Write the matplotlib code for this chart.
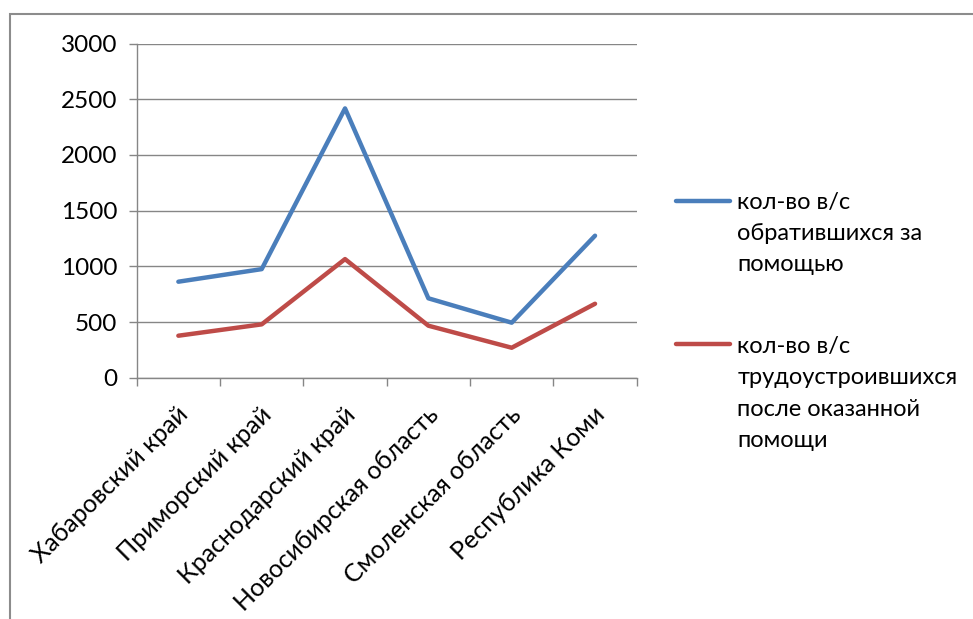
#!/usr/bin/env python3
"""
Line chart: kol-vo v/s by region (Excel-style reproduction).
Output: out.png
"""
import matplotlib
matplotlib.use("Agg")
import matplotlib.pyplot as plt
import matplotlib.transforms as mtransforms
from matplotlib.legend_handler import HandlerLine2D
from matplotlib.patches import Rectangle
import numpy as np

regions = ["Хабаровский край", "Приморский край", "Краснодарский край",
           "Новосибирская область", "Смоленская область", "Республика Коми"]
applied = [862, 975, 2418, 713, 494, 1275]
employed = [377, 479, 1065, 467, 269, 664]
label_applied = "кол-во в/с\nобратившихся за\nпомощью"
label_employed = "кол-во в/с\nтрудоустроившихся\nпосле оказанной\nпомощи"
yticks = [0, 500, 1000, 1500, 2000, 2500, 3000]

BLUE = "#4A7EBB"
RED = "#BE4B48"
GRID = "#868686"
FS = 17
LINESP = 1.59


class TopLineHandler(HandlerLine2D):
    # Excel puts the legend key next to the first text line, not the middle
    def __init__(self, shift, **kw):
        super().__init__(**kw)
        self.shift = shift

    def create_artists(self, legend, orig_handle, xdescent, ydescent,
                       width, height, fontsize, trans):
        return super().create_artists(legend, orig_handle, xdescent,
                                      ydescent - 2 * self.shift, width,
                                      height, fontsize, trans)


plt.rcParams["font.family"] = ["Lato", "DejaVu Sans"]

W, H = 973, 619
fig = plt.figure(figsize=(W / 100, H / 100), dpi=100)
ax = fig.add_axes([136.7 / W, 1 - 377.7 / H, 500 / W, 334.1 / H])

# outer chart border (gray)
fig.patches.append(Rectangle((10 / W, -0.1), 1.2, 1 - 14 / H + 0.1,
                             transform=fig.transFigure, fill=False,
                             edgecolor="#8c8c8c", linewidth=1.5))

x = np.arange(len(regions))
l1, = ax.plot(x, applied, color=BLUE, lw=3.2, solid_capstyle="round",
              solid_joinstyle="round", label=label_applied)
l2, = ax.plot(x, employed, color=RED, lw=3.2, solid_capstyle="round",
              solid_joinstyle="round", label=label_employed)

ax.set_xlim(-0.5, len(regions) - 0.5)
ax.set_ylim(0, 3000)
ax.set_yticks(yticks)
ax.set_yticklabels([str(v) for v in yticks], fontsize=17.5)
ax.yaxis.grid(True, color=GRID, lw=1)
ax.set_axisbelow(True)

ax.set_xticks(x)
ax.set_xticklabels(regions, rotation=45, ha="right", va="top",
                   rotation_mode="anchor", fontsize=18)
ax.set_xticks(np.arange(-0.5, len(regions)), minor=True)
ax.tick_params(axis="x", which="major", length=0, pad=18)
ax.tick_params(axis="x", which="minor", length=6, color=GRID, width=1)
ax.tick_params(axis="y", length=6, color=GRID, width=1, pad=8)
shift_x = mtransforms.ScaledTranslation(-0.02, 0, fig.dpi_scale_trans)
for lbl in ax.get_xticklabels():
    lbl.set_transform(lbl.get_transform() + shift_x)

for s in ["top", "right"]:
    ax.spines[s].set_visible(False)
for s in ["left", "bottom"]:
    ax.spines[s].set_color(GRID)
    ax.spines[s].set_linewidth(1)

line_pt = 33 * 72 / 100  # legend text line pitch in points
leg = ax.legend(loc="upper left", bbox_to_anchor=(676 / W, 1 - 192 / H),
                bbox_transform=fig.transFigure, frameon=False, fontsize=FS,
                handlelength=2.3, handletextpad=0.3, labelspacing=2.6,
                borderaxespad=0, borderpad=0,
                handler_map={l1: TopLineHandler(1.0 * line_pt),
                             l2: TopLineHandler(1.5 * line_pt)})
for t in leg.get_texts():
    t.set_linespacing(LINESP)

fig.savefig("out.png", dpi=100, facecolor="white")
